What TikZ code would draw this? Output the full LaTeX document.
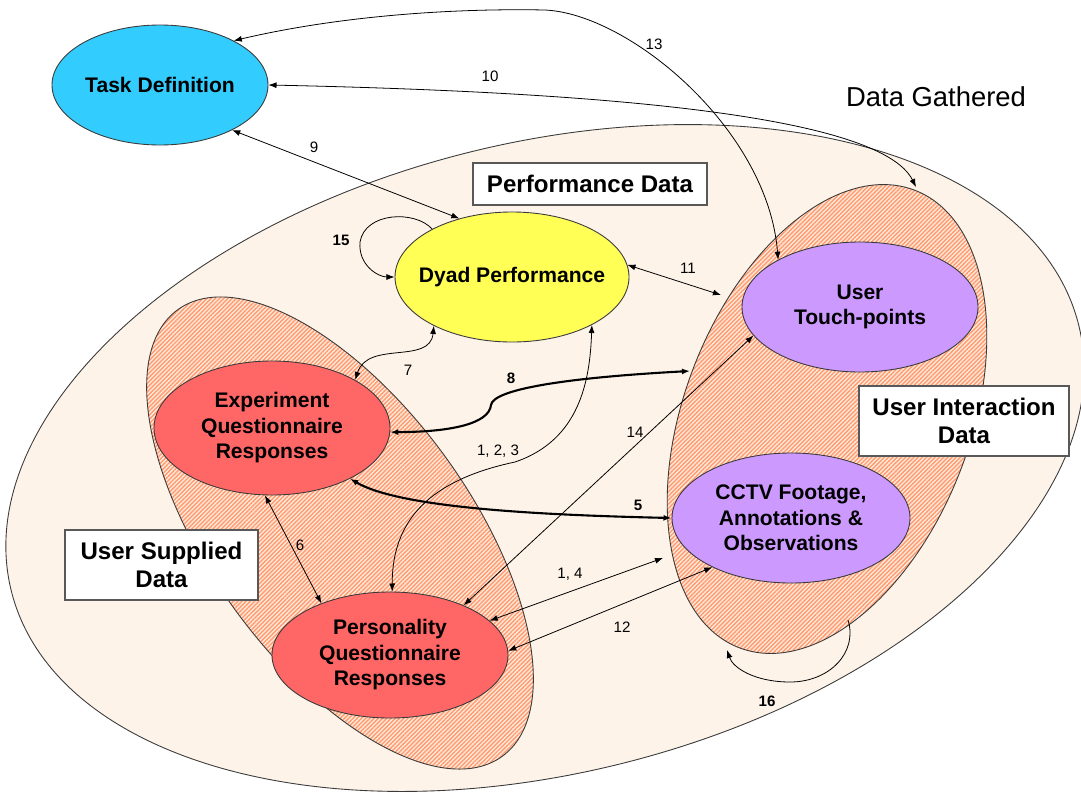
\documentclass[tikz,border=0pt]{standalone}
\usepackage{fontspec}
\setmainfont{Liberation Sans}
\usetikzlibrary{shapes.geometric,arrows.meta,patterns.meta}
\definecolor{taskblue}{HTML}{33CCFF}
\definecolor{dyadyellow}{HTML}{FFFF55}
\definecolor{uipurple}{HTML}{CC99FF}
\definecolor{usred}{HTML}{FF6666}
\definecolor{gathered}{HTML}{FDF3E9}
\definecolor{hatchbase}{HTML}{FFEADC}
\definecolor{hatchline}{HTML}{FF9B70}
\definecolor{edge}{HTML}{3A3A3A}
\begin{document}
\begin{tikzpicture}[x=0.02cm,y=-0.02cm,
  >={Latex[length=4.6pt,width=3.4pt]},
  bubble/.style 2 args={ellipse, draw=edge, line width=0.5pt,
    inner xsep=-20pt, inner ysep=0pt,
    minimum width=#1*0.02cm, minimum height=#2*0.02cm, align=center,
    font=\fontsize{12pt}{14.5pt}\selectfont\bfseries},
  tag/.style 2 args={rectangle, draw=edge!85, fill=white, line width=0.6pt,
    inner sep=0pt, minimum width=#1*0.02cm, minimum height=#2*0.02cm,
    align=center, font=\fontsize{13.7pt}{16pt}\selectfont\bfseries},
  region/.style={draw=edge, line width=0.5pt},
  stripes/.style={pattern={Lines[angle=45,distance=1.7pt,line width=0.8pt]},
    pattern color=hatchline},
  conn/.style={<->, line width=0.45pt},
  bold conn/.style={<->, line width=1.2pt},
  selfloop/.style={->, line width=0.45pt},
  num/.style={font=\fontsize{8.6pt}{10pt}\selectfont, inner sep=1pt},
  bold num/.style={font=\fontsize{8.6pt}{10pt}\selectfont\bfseries, inner sep=1pt}
]
\useasboundingbox (0,0) rectangle (1081,801);
\clip (0,0) rectangle (1081,801);

% outer region: everything that was gathered
\draw[region, fill=gathered, rotate around={14:(545,458)}]
  (545,458) ellipse [x radius=550, y radius=315];

% hatched zone: user supplied data
\begin{scope}
  \clip[rotate around={-54:(340,533)}] (340,533) ellipse [x radius=276, y radius=130];
  \fill[hatchbase] (0,0) rectangle (1081,801);
  \pattern[stripes] (0,0) rectangle (1081,801);
\end{scope}
\draw[region, rotate around={-54:(340,533)}] (340,533) ellipse [x radius=276, y radius=130];

% hatched zone: user interaction data
\begin{scope}
  \clip[rotate around={69:(827,419)}] (827,419) ellipse [x radius=245, y radius=143];
  \fill[hatchbase] (0,0) rectangle (1081,801);
  \pattern[stripes] (0,0) rectangle (1081,801);
\end{scope}
\draw[region, rotate around={69:(827,419)}] (827,419) ellipse [x radius=245, y radius=143];

% points on the zone borders where connectors end
\coordinate (ui10) at (916,187);
\coordinate (ui11) at (721,295);
\coordinate (ui8) at (690,371);
\coordinate (ui14) at (663,558);
\coordinate (ui16a) at (848,620);
\coordinate (ui16b) at (727,650);

% titles
\node[font=\fontsize{15.6pt}{18pt}\selectfont] (dg) at (936,97) {Data Gathered};
\node[tag={234}{42}] (perf) at (590,184) {Performance Data};
\node[tag={193}{70}] (usd) at (161.5,565) {User Supplied\\Data};
\node[tag={210}{70}] (uid) at (964,421) {User Interaction\\Data};

% data items
\node[bubble={216}{120}, fill=taskblue] (td) at (160,85) {Task Definition};
\node[bubble={234}{130}, fill=dyadyellow] (dyad) at (512,277) {Dyad Performance};
\node[bubble={236}{130}, fill=uipurple] (touch) at (860,307) {User\\Touch-points};
\node[bubble={238}{130}, fill=uipurple] (cctv) at (791,518) {CCTV Footage,\\Annotations \&\\Observations};
\node[bubble={236}{134}, fill=usred] (exp) at (272,428) {Experiment\\Questionnaire\\Responses};
\node[bubble={236}{126}, fill=usred] (pers) at (390,655) {Personality\\Questionnaire\\Responses};

% relations
\draw[conn] (td.-32) -- (dyad.132);
\draw[conn] (td.0) .. controls (600,92) and (880,115) .. (ui10);
\draw[conn] (td.31) .. controls (330,18) and (440,8) .. (545,10)
  .. controls (630,14) and (768,130) .. (touch.150);
\draw[selfloop] (dyad.149) .. controls (415,210) and (365,212) .. (360,242)
  .. controls (358,265) and (378,277) .. (dyad.180);
\draw[conn] (dyad.6) -- (ui11);
\draw[conn] (exp.30) .. controls (368,340) and (430,365) .. (dyad.-148);
\draw[bold conn] (exp.-2) .. controls (450,432) and (489,424) .. (491,405)
  .. controls (493,390) and (560,378) .. (ui8);
\draw[bold conn] (exp.-33) .. controls (400,508) and (540,515) .. (cctv.180);
\draw[conn] (dyad.-31) .. controls (590,380) and (580,440) .. (515,462)
  .. controls (430,480) and (392,520) .. (pers.88);
\draw[conn] (pers.34) -- (touch.-165);
\draw[conn] (exp.-96) -- (pers.143);
\draw[conn] (pers.19) -- (ui14);
\draw[conn] (pers.2) -- (cctv.-148);
\draw[selfloop] (ui16a) .. controls (858,652) and (830,682) .. (790,682)
  .. controls (755,682) and (733,668) .. (ui16b);

% relation numbers
\node[num] (n13) at (654,44) {13};
\node[num] (n10) at (490,76) {10};
\node[num] (n9) at (314,147) {9};
\node[bold num] (n15) at (341,240) {15};
\node[num] (n11) at (688,268) {11};
\node[num] (n7) at (408,370) {7};
\node[bold num] (n8) at (511,378) {8};
\node[num] (n123) at (498,451) {1, 2, 3};
\node[num] (n14) at (635,432) {14};
\node[bold num] (n5) at (638,505) {5};
\node[num] (n6) at (300,545) {6};
\node[num] (n14b) at (570,574) {1, 4};
\node[num] (n12) at (622,627) {12};
\node[bold num] (n16) at (767,701) {16};
\end{tikzpicture}
\end{document}
